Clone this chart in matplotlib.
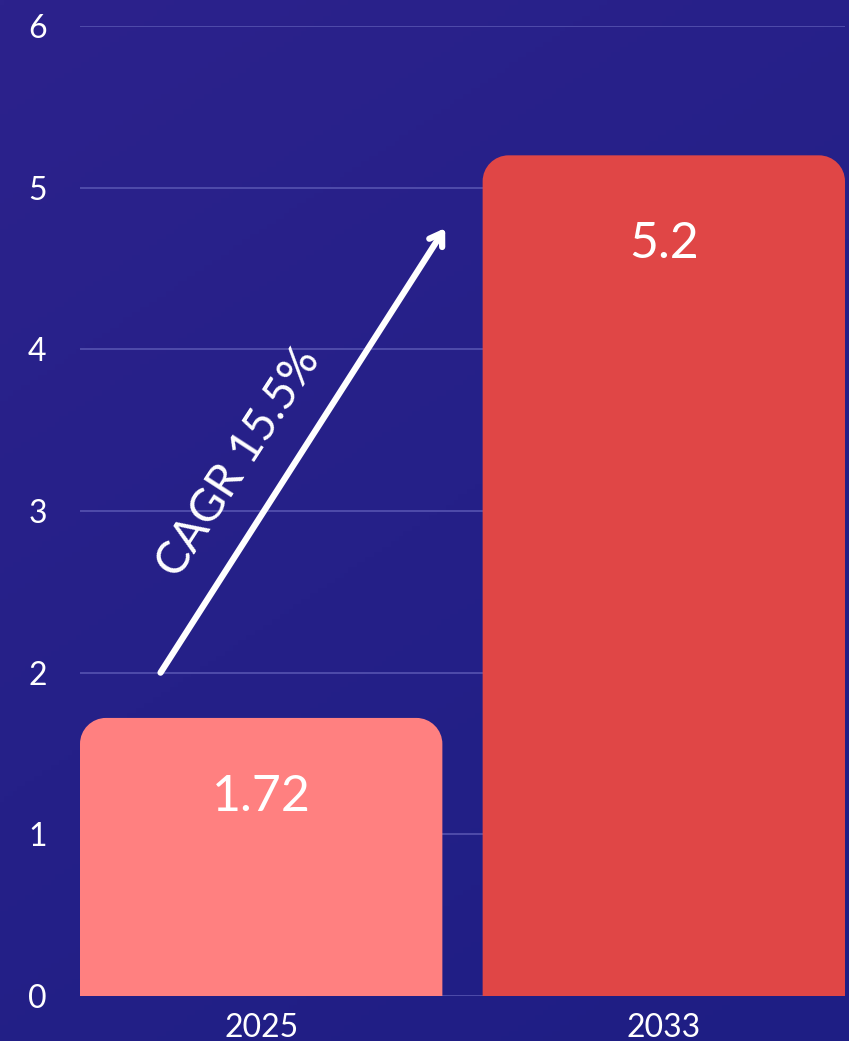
import numpy as np
import matplotlib
matplotlib.use('Agg')
import matplotlib.pyplot as plt
from matplotlib.path import Path
from matplotlib.patches import PathPatch

years = ['2025', '2033']
values = [1.72, 5.2]
bar_colors = ['#FF8080', '#E04646']
cagr_label = 'CAGR 15.5%'

plt.rcParams['font.family'] = ['Lato', 'DejaVu Sans']

fig = plt.figure(figsize=(8.49, 10.41), dpi=100)

# gradient background, purple top-left -> deep blue bottom-right
bg = fig.add_axes([0, 0, 1, 1], zorder=-10)
gy, gx = np.mgrid[0:1:200j, 0:1:200j]
t = 0.65 * gy + 0.35 * gx
c0 = np.array([44, 34, 140]) / 255
c1 = np.array([30, 30, 132]) / 255
img = c0[None, None, :] * (1 - t[..., None]) + c1[None, None, :] * t[..., None]
bg.imshow(img, aspect='auto', extent=[0, 1, 0, 1], origin='upper')
bg.axis('off')

ax = fig.add_axes([80 / 849, 45 / 1041, 765 / 849, 970 / 1041])
ax.set_facecolor('none')
x = np.arange(len(years))
bars = ax.bar(x, values, width=0.9, color=bar_colors, zorder=2)
ax.set_xlim(-0.45, 1.45)
ax.set_ylim(0, 6)

# swap the square bars for bars with rounded top corners
bb = ax.get_window_extent()
px_x = bb.width / (1.45 + 0.45)
px_y = bb.height / 6
r_px = 26
rx, ry = r_px / px_x, r_px / px_y
k = 0.5523
for b, col in zip(bars, bar_colors):
    x0, y0 = b.get_x(), b.get_y()
    w, h = b.get_width(), b.get_height()
    x1, y1 = x0 + w, y0 + h
    verts = [(x0, y0), (x0, y1 - ry),
             (x0, y1 - ry + k * ry), (x0 + rx - k * rx, y1), (x0 + rx, y1),
             (x1 - rx, y1),
             (x1 - rx + k * rx, y1), (x1, y1 - ry + k * ry), (x1, y1 - ry),
             (x1, y0), (x0, y0)]
    codes = [Path.MOVETO, Path.LINETO,
             Path.CURVE4, Path.CURVE4, Path.CURVE4,
             Path.LINETO,
             Path.CURVE4, Path.CURVE4, Path.CURVE4,
             Path.LINETO, Path.CLOSEPOLY]
    ax.add_patch(PathPatch(Path(verts, codes), facecolor=col, edgecolor='none', zorder=3))
    b.set_visible(False)

# value labels inside bars
ax.text(x[0], values[0] - 0.49, '1.72', ha='center', va='center', color='white',
        fontsize=36, zorder=5)
ax.text(x[1], values[1] - 0.55, '5.2', ha='center', va='center', color='white',
        fontsize=36, zorder=5)

# CAGR arrow
ax.annotate('', xy=(0.457, 4.75), xytext=(-0.25, 2.0),
            arrowprops=dict(arrowstyle='->,head_length=0.85,head_width=0.55', lw=4.5,
                            color='white', capstyle='round', joinstyle='round',
                            shrinkA=0, shrinkB=0), zorder=6)
ax.text(-0.055, 3.3, cagr_label, rotation=57, ha='center', va='center', color='white',
        fontsize=33, rotation_mode='anchor', zorder=6)

ax.set_yticks(range(0, 7))
ax.set_xticks(x)
ax.set_xticklabels(years)
ax.grid(axis='y', color='#5653b0', lw=1.2, zorder=1)
ax.set_axisbelow(True)
ax.tick_params(axis='both', length=0, colors='white', labelsize=23)
ax.tick_params(axis='y', pad=24)
ax.tick_params(axis='x', pad=12)
for s in ax.spines.values():
    s.set_visible(False)

fig.savefig('out.png', dpi=100)
